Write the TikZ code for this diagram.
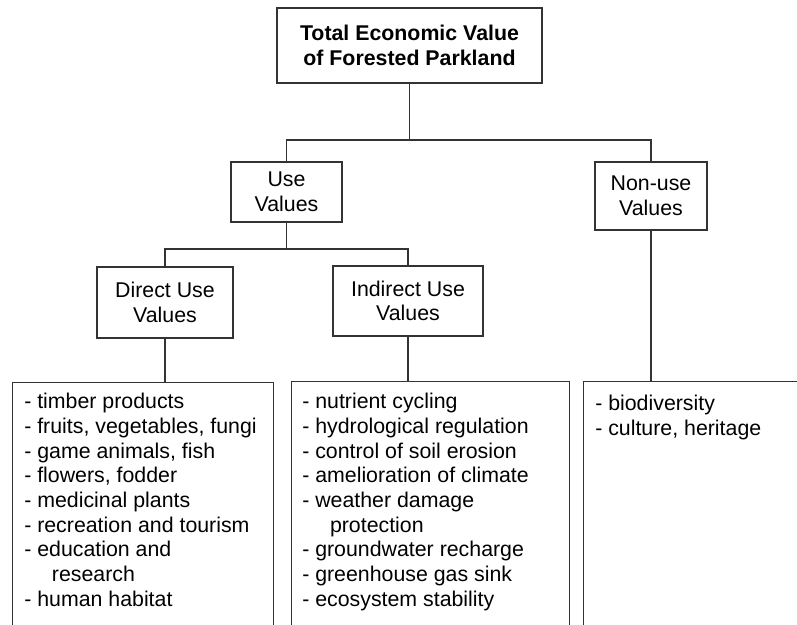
\documentclass[tikz,border=0pt]{standalone}
\usepackage{fontspec}
\setmainfont{Liberation Sans}
\usetikzlibrary{positioning}
\definecolor{trait}{HTML}{333333}

\tikzset{
  boite/.style={draw=trait, line width=0.9pt, align=center, inner sep=0pt,
    font=\fontsize{16}{18.4}\selectfont},
  cadre/.style={draw=trait, line width=0.9pt, anchor=north west, inner sep=0pt,
    minimum height=300pt},
  liste/.style={anchor=north west, align=left, inner sep=0pt,
    font=\fontsize{16}{18.5}\selectfont},
  lien/.style={draw=trait, line width=0.9pt}
}

\begin{document}
\begin{tikzpicture}[x=0.75pt, y=-0.75pt]
    \useasboundingbox (0,0) rectangle (797,625);
    \clip (0,0) rectangle (797,625);

    % Boites
    \node[boite, minimum width=198.75pt, minimum height=56.25pt, font=\fontsize{16}{18.4}\selectfont\bfseries]
      (total) at (409.5,45.5) {Total Economic Value\\of Forested Parkland};
    \node[boite, minimum width=83.25pt, minimum height=45pt] (use) at (286.5,192) {Use\\Values};
    \node[boite, minimum width=84pt, minimum height=51pt] (nonuse) at (651,196) {Non-use\\Values};
    \node[boite, minimum width=102pt, minimum height=53.25pt] (direct) at (165,302.5) {Direct Use\\Values};
    \node[boite, minimum width=112.5pt, minimum height=52.5pt] (indirect) at (408,301) {Indirect Use\\Values};

    % Cadres des listes
    \node[cadre, minimum width=195.75pt] (directliste) at (12,382) {};
    \node[cadre, minimum width=208.5pt] (indirectliste) at (291,381) {};
    \node[cadre, minimum width=180pt] (nonuseliste) at (583,381) {};

    % Listes
    \node[liste] (directtexte) at (24,393) {- timber products\\
      - fruits, vegetables, fungi\\
      - game animals, fish\\
      - flowers, fodder\\
      - medicinal plants\\
      - recreation and tourism\\
      - education and\\
      \hspace*{1.3em}research\\
      - human habitat};
    \node[liste] (indirecttexte) at (302,393) {- nutrient cycling\\
      - hydrological regulation\\
      - control of soil erosion\\
      - amelioration of climate\\
      - weather damage\\
      \hspace*{1.3em}protection\\
      - groundwater recharge\\
      - greenhouse gas sink\\
      - ecosystem stability};
    \node[liste] (nonusetexte) at (595,395) {- biodiversity\\
      - culture, heritage};

    % Liens
    \coordinate (j1) at (409.5,140);
    \coordinate (j2) at (286.5,249);
    \draw[lien] (total.south) -- (j1);
    \draw[lien] (use.north) |- (j1) -| (nonuse.north);
    \draw[lien] (use.south) -- (j2);
    \draw[lien] (direct.north) |- (j2) -| (indirect.north);
    \draw[lien] (direct.south) -- (direct.south |- directliste.north);
    \draw[lien] (indirect.south) -- (indirect.south |- indirectliste.north);
    \draw[lien] (nonuse.south) -- (nonuse.south |- nonuseliste.north);
\end{tikzpicture}
\end{document}
